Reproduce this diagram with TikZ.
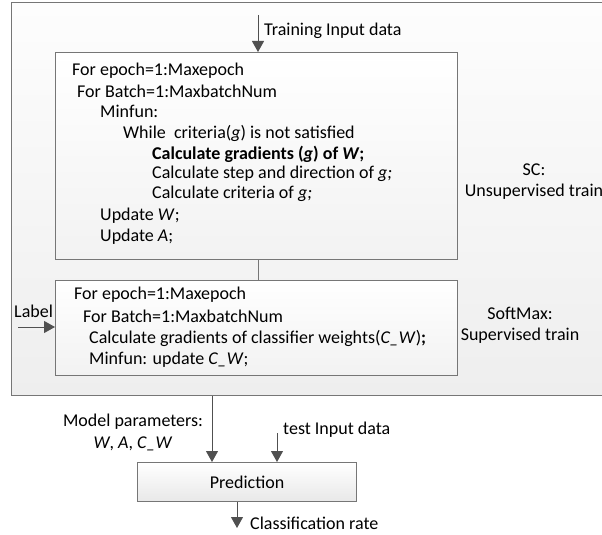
\documentclass[tikz,border=0pt]{standalone}
\usepackage{fontspec}
\setmainfont{Carlito}
\usetikzlibrary{arrows.meta}
\definecolor{frame-color}{RGB}{118,118,118}
\definecolor{arrow-color}{RGB}{80,80,80}
\definecolor{panel-top}{RGB}{253,253,253}
\definecolor{panel-bottom}{RGB}{238,238,238}
\definecolor{box-bottom}{RGB}{242,242,242}
\tikzset{
  box/.style={draw=frame-color, line width=1.1pt, top color=white, bottom color=box-bottom, anchor=north west, inner sep=0pt},
  txt/.style={anchor=west, inner sep=0pt, font=\fontsize{18}{20}\selectfont},
  ctxt/.style={align=center, inner sep=0pt, font=\fontsize{18}{21}\selectfont},
  flow/.style={draw=arrow-color, line width=1pt, -{Triangle[length=11pt,width=12pt]}}
}
\begin{document}
\begin{tikzpicture}[x=1pt,y=-1pt]
    \useasboundingbox (0,0) rectangle (602,535);
    \clip (0,0) rectangle (602,535);

    \node[box, top color=panel-top, bottom color=panel-bottom, minimum width=600pt, minimum height=393pt] (panel) at (11,2) {};
    \node[box, minimum width=402pt, minimum height=207pt] (sc) at (55,52) {};
    \node[box, minimum width=402pt, minimum height=95pt] (soft) at (55,280) {};
    \node[box, bottom color=black!9, minimum width=219pt, minimum height=39pt] (pred) at (137,462) {};
    \node[ctxt] at (pred.center) {Prediction};

    \node[txt] (sc1) at (72,71) {For epoch=1:Maxepoch};
    \node[txt] (sc2) at (77,91) {For Batch=1:MaxbatchNum};
    \node[txt] (sc3) at (100,111) {Minfun:};
    \node[txt] (sc4) at (123,133) {While\ \ criteria(\textit{g}) is not satisfied};
    \node[txt] (sc5) at (152,154) {\bfseries Calculate gradients (\textit{g}) of \textit{W};};
    \node[txt] (sc6) at (152,174) {Calculate step and direction of \textit{g;}};
    \node[txt] (sc7) at (152,194) {Calculate criteria of \textit{g;}};
    \node[txt] (sc8) at (100,216) {Update \textit{W};};
    \node[txt] (sc9) at (100,237) {Update \textit{A};};

    \node[txt] (sm1) at (74,295) {For epoch=1:Maxepoch};
    \node[txt] (sm2) at (83,316) {For Batch=1:MaxbatchNum};
    \node[txt] (sm3) at (89,338) {Calculate gradients of classifier weights(\textit{C\_W})\textbf{;}};
    \node[txt] (sm4) at (89,360) {Minfun: update \textit{C\_W};};

    \node[ctxt] (scname) at (534,182) {SC:\\Unsupervised train};
    \node[ctxt] (smname) at (520,325) {SoftMax:\\Supervised train};

    \coordinate (trainin) at (258,15);
    \coordinate (labelin) at (18,327);
    \coordinate (params) at (212,0);
    \coordinate (testin) at (277,433);
    \coordinate (rate) at (237,528);

    \node[txt] (trainlbl) at (264,31) {Training Input data};
    \node[txt] (labellbl) at (14,311) {Label};
    \node[ctxt, font=\fontsize{18}{22}\selectfont] (paramlbl) at (133,432) {Model parameters:\\\textit{W}, \textit{A}, \textit{C\_W}};
    \node[txt] (testlbl) at (283,430) {test Input data};
    \node[txt] (ratelbl) at (250,523) {Classification rate};

    \draw[flow] (trainin) -- (trainin |- sc.north);
    \draw[draw=frame-color, line width=1pt] (trainin |- sc.south) -- (trainin |- soft.north);
    \draw[flow] (labelin) -- (labelin -| soft.west);
    \draw[flow] (params |- panel.south) -- (params |- pred.north);
    \draw[flow] (testin) -- (testin |- pred.north);
    \draw[flow] (rate |- pred.south) -- (rate);
\end{tikzpicture}
\end{document}
